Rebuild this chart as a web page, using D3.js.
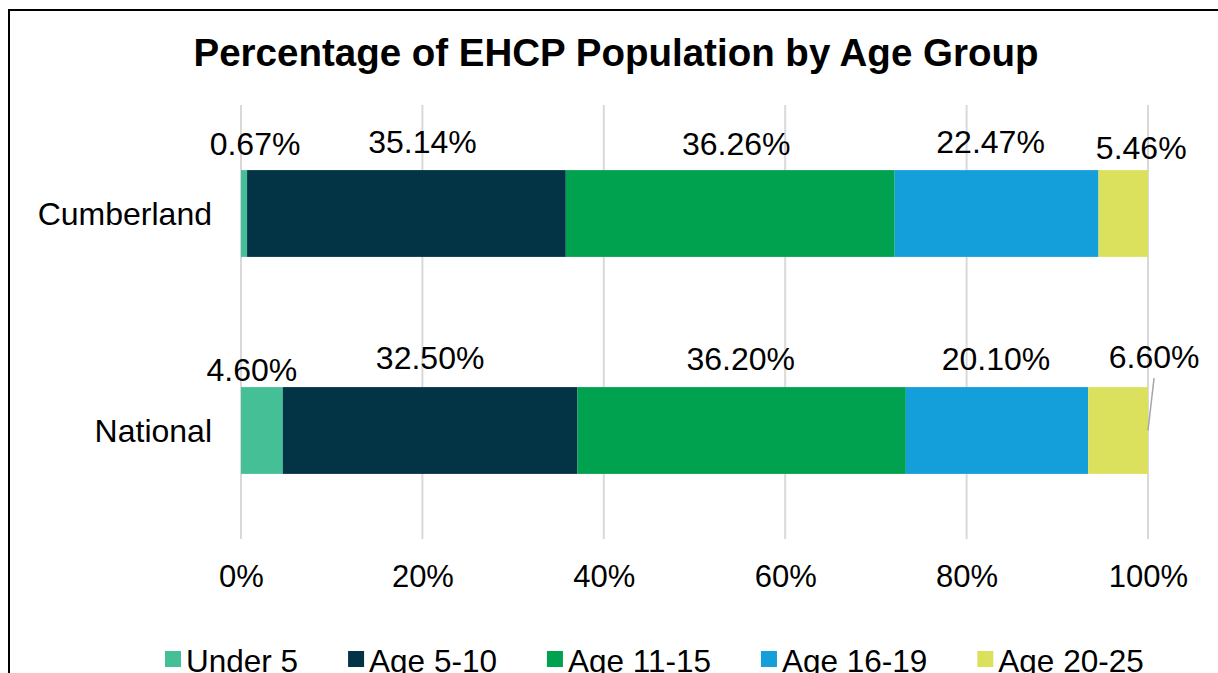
<!DOCTYPE html>
<html>
<head>
<meta charset="utf-8">
<script src="https://cdn.jsdelivr.net/npm/d3@7"></script>
<style>
  body { margin: 0; background: #fff; }
  svg text { font-family: "Liberation Sans", Arial, sans-serif; fill: #000; }
</style>
</head>
<body>
<div id="chart"></div>
<script>
// data
const categories = ["Cumberland", "National"];
const seriesNames = ["Under 5", "Age 5-10", "Age 11-15", "Age 16-19", "Age 20-25"];
const cumberlandValues = [0.67, 35.14, 36.26, 22.47, 5.46];
const nationalValues = [4.60, 32.50, 36.20, 20.10, 6.60];
const labelText = [
  ["0.67%", "35.14%", "36.26%", "22.47%", "5.46%"],
  ["4.60%", "32.50%", "36.20%", "20.10%", "6.60%"]
];
const tickValues = [0, 20, 40, 60, 80, 100];
const colors = ["#45bf95", "#023446", "#00a14f", "#149fda", "#dbe15d"];

const W = 1218, H = 673;
const svg = d3.select("#chart").append("svg")
  .attr("width", W).attr("height", H);

// outer frame
svg.append("rect")
  .attr("x", 9).attr("y", 10)
  .attr("width", W).attr("height", H + 20)
  .attr("fill", "none").attr("stroke", "#000").attr("stroke-width", 2);

svg.append("text")
  .attr("x", 616).attr("y", 66)
  .attr("text-anchor", "middle")
  .style("font-size", "38.5px").style("font-weight", "bold")
  .text("Percentage of EHCP Population by Age Group");

let plot = {left: 241, right: 1148, top: 105, bottom: 539};

let x = d3.scaleLinear().domain([0, 100]).range([plot.left, plot.right]);
let y = d3.scaleBand().domain(categories)
  .range([plot.top, plot.bottom])
  .paddingInner(0.6).paddingOuter(0.3);

// table for d3.stack
let rows = categories.map((c, i) => {
  let vals = i === 0 ? cumberlandValues : nationalValues;
  let r = {cat: c, idx: i};
  seriesNames.forEach((s, j) => r[s] = vals[j]);
  return r;
});
let stacked = d3.stack().keys(seriesNames)(rows);

// gridlines
svg.append("g")
  .selectAll("line").data(tickValues).join("line")
  .attr("x1", d => x(d)).attr("x2", d => x(d))
  .attr("y1", plot.top).attr("y2", plot.bottom)
  .attr("stroke", "#d9d9d9").attr("stroke-width", 2);

// x tick labels
let xAxis = svg.append("g")
  .attr("transform", "translate(0," + plot.bottom + ")")
  .call(d3.axisBottom(x).tickValues(tickValues).tickSize(0).tickFormat(d => d + "%"));
xAxis.select(".domain").remove();
xAxis.selectAll("text")
  .attr("y", 48).attr("dy", 0)
  .style("font-size", "31px")
  .style("font-family", "Liberation Sans, Arial, sans-serif");

// category labels
let yAxis = svg.append("g")
  .attr("transform", "translate(" + (plot.left - 29) + ",0)")
  .call(d3.axisLeft(y).tickSize(0).tickPadding(0));
yAxis.select(".domain").remove();
yAxis.selectAll("text")
  .attr("dy", "0.36em")
  .style("font-size", "32px")
  .style("font-family", "Liberation Sans, Arial, sans-serif");

// bars
svg.append("g")
  .selectAll("g").data(stacked).join("g")
  .attr("fill", (d, i) => colors[i])
  .selectAll("rect").data(d => d).join("rect")
  .attr("x", d => x(d[0]))
  .attr("width", d => x(d[1]) - x(d[0]))
  .attr("y", d => y(d.data.cat))
  .attr("height", y.bandwidth());

// data labels (manually nudged in the original, as in Excel)
const labelShift = [[11, 16, 6, -6, 18], [-10, 0, -1, -1, 36]];
const labelRise = [[15, 17, 15, 17, 11], [6, 18, 17, 17, 19]];
let labels = [];
stacked.forEach((s, j) => s.forEach(d => {
  let i = d.data.idx;
  labels.push({
    i: i, j: j,
    x: (x(d[0]) + x(d[1])) / 2 + labelShift[i][j],
    y: y(d.data.cat) - labelRise[i][j],
    t: labelText[i][j],
    end: x(d[1]),
    mid: y(d.data.cat) + y.bandwidth() / 2
  });
}));
svg.append("g")
  .selectAll("text").data(labels).join("text")
  .attr("x", d => d.x).attr("y", d => d.y)
  .attr("text-anchor", "middle")
  .style("font-size", "32px")
  .text(d => d.t);

// leader line for the label moved away from its segment
svg.append("g")
  .selectAll("line").data(labels.filter(d => d.i === 1 && d.j === 4)).join("line")
  .attr("x1", d => d.x).attr("y1", d => d.y + 10)
  .attr("x2", d => d.end).attr("y2", d => d.mid)
  .attr("stroke", "#a6a6a6").attr("stroke-width", 1.5);

// legend (cut by the bottom edge, as in the original)
let legend = svg.append("g").attr("transform", "translate(165,0)");
let lx = 0;
seriesNames.forEach((s, j) => {
  let g = legend.append("g").attr("transform", "translate(" + lx + ",0)");
  g.append("rect").attr("x", 0).attr("y", 651)
    .attr("width", 16).attr("height", 16).attr("fill", colors[j]);
  let t = g.append("text").attr("x", 21).attr("y", 672)
    .style("font-size", "31.5px").text(s);
  lx += 21 + t.node().getComputedTextLength() + 50;
});
</script>
</body>
</html>
